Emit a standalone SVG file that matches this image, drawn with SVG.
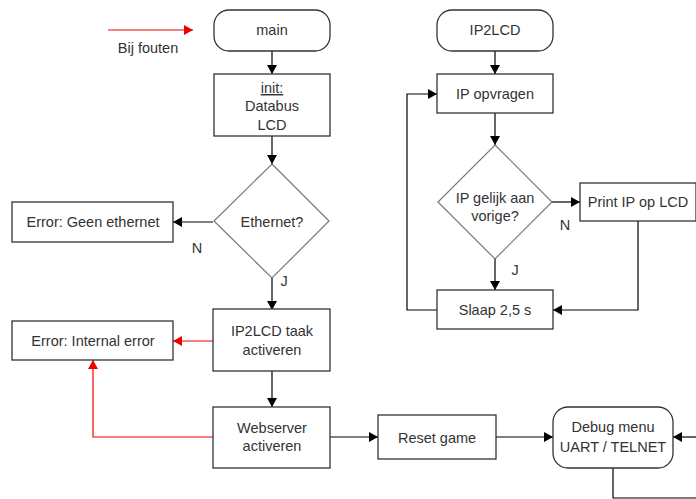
<svg xmlns="http://www.w3.org/2000/svg" width="696" height="499" viewBox="0 0 696 499">
<defs>
<marker id="ab" markerWidth="10" markerHeight="10" refX="9" refY="5" orient="auto" markerUnits="userSpaceOnUse"><path d="M0,0 L9,5 L0,10 Z" fill="#000"/></marker>
<marker id="ar" markerWidth="10" markerHeight="10" refX="9" refY="5" orient="auto" markerUnits="userSpaceOnUse"><path d="M0,0 L9,5 L0,10 Z" fill="#e00"/></marker>
<style>
.n{fill:#fff;stroke:#333;stroke-width:1.3}
.d{fill:#fff;stroke:#777;stroke-width:1.2}
.t{font-family:"Liberation Sans",Arial,sans-serif;font-size:14.5px;fill:#333;text-anchor:middle}
.c{fill:none;stroke:#000;stroke-width:1.2}
.r{fill:none;stroke:#e00;stroke-width:1.2}
</style>
</defs>
<g id="connectors">
<path class="r" d="M108,30 H193" marker-end="url(#ar)"/>
<path class="c" d="M272,51 V74" marker-end="url(#ab)"/>
<path class="c" d="M272,136 V164" marker-end="url(#ab)"/>
<path class="c" d="M213,222 H173" marker-end="url(#ab)"/>
<path class="c" d="M272,278 V310" marker-end="url(#ab)"/>
<path class="r" d="M213,341 H173" marker-end="url(#ar)"/>
<path class="c" d="M272,371 V407" marker-end="url(#ab)"/>
<path class="r" d="M213,437 H93 V360" marker-end="url(#ar)"/>
<path class="c" d="M330,437 H378" marker-end="url(#ab)"/>
<path class="c" d="M496,437 H553" marker-end="url(#ab)"/>
<path class="c" d="M696,437 H673" marker-end="url(#ab)"/>
<path class="c" d="M613,468 V498 H696"/>
<path class="c" d="M495,51 V74" marker-end="url(#ab)"/>
<path class="c" d="M495,113 V145" marker-end="url(#ab)"/>
<path class="c" d="M552,202 H580" marker-end="url(#ab)"/>
<path class="c" d="M495,259 V290" marker-end="url(#ab)"/>
<path class="c" d="M638,221 V310 H553" marker-end="url(#ab)"/>
<path class="c" d="M437,310 H407 V94 H437" marker-end="url(#ab)"/>
</g>
<g id="legend"><text class="t" x="148" y="53">Bij fouten</text></g>
<g id="main"><rect class="n" x="214" y="10" width="116" height="41" rx="15"/><text class="t" x="272" y="35">main</text></g>
<g id="init"><rect class="n" x="214" y="74" width="116" height="62"/><text class="t" x="272" y="93" text-decoration="underline">init:</text><text class="t" x="272" y="111">Databus</text><text class="t" x="272" y="130">LCD</text></g>
<g id="ethernet"><polygon class="d" points="272,164 329,221 272,278 214,221"/><text class="t" x="272" y="227">Ethernet?</text></g>
<g id="err-eth"><rect class="n" x="12" y="202" width="161" height="40"/><text class="t" x="93" y="227">Error: Geen ethernet</text></g>
<g id="lbl-n1"><text class="t" x="197" y="253">N</text></g>
<g id="lbl-j1"><text class="t" x="284" y="286">J</text></g>
<g id="ip2lcd-act"><rect class="n" x="213" y="309" width="117" height="62"/><text class="t" x="272" y="336">IP2LCD taak</text><text class="t" x="272" y="355">activeren</text></g>
<g id="err-int"><rect class="n" x="12" y="321" width="161" height="39"/><text class="t" x="93" y="346">Error: Internal error</text></g>
<g id="webserver"><rect class="n" x="213" y="407" width="117" height="61"/><text class="t" x="272" y="433">Webserver</text><text class="t" x="272" y="451">activeren</text></g>
<g id="reset"><rect class="n" x="378" y="415" width="118" height="44"/><text class="t" x="437" y="443">Reset game</text></g>
<g id="debug"><rect class="n" x="553" y="407" width="120" height="61" rx="15"/><text class="t" x="613" y="432">Debug menu</text><text class="t" x="613" y="452">UART / TELNET</text></g>
<g id="ip2lcd"><rect class="n" x="437" y="10" width="116" height="41" rx="15"/><text class="t" x="495" y="35">IP2LCD</text></g>
<g id="ipopvragen"><rect class="n" x="437" y="74" width="116" height="39"/><text class="t" x="495" y="99">IP opvragen</text></g>
<g id="ipgelijk"><polygon class="d" points="495,145 552,202 495,259 438,202"/><text class="t" x="495" y="203">IP gelijk aan</text><text class="t" x="495" y="221">vorige?</text></g>
<g id="printip"><rect class="n" x="580" y="183" width="116" height="38"/><text class="t" x="638" y="207">Print IP op LCD</text></g>
<g id="lbl-n2"><text class="t" x="565" y="230">N</text></g>
<g id="lbl-j2"><text class="t" x="515" y="275">J</text></g>
<g id="slaap"><rect class="n" x="437" y="290" width="116" height="39"/><text class="t" x="495" y="315">Slaap 2,5 s</text></g>
</svg>
